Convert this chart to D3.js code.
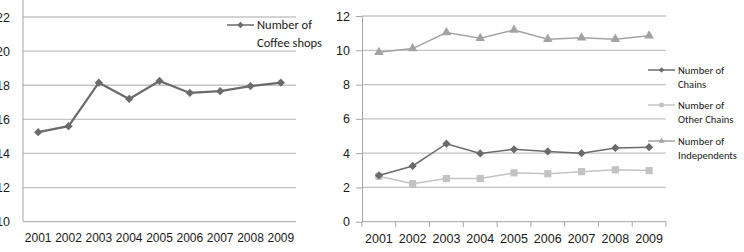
<!DOCTYPE html>
<html>
<head>
<meta charset="utf-8">
<script src="https://cdn.jsdelivr.net/npm/d3@7"></script>
<style>
  body { margin: 0; background: #fff; }
  svg { display: block; font-family: Carlito, Lato, sans-serif; }
  .tick text { fill: #1a1a1a; }
</style>
</head>
<body>
<svg id="chart" width="744" height="252"></svg>
<script>
// data
var years = ["2001", "2002", "2003", "2004", "2005", "2006", "2007", "2008", "2009"];
var coffeeShops = [15.25, 15.6, 18.15, 17.2, 18.25, 17.55, 17.65, 17.95, 18.15];
var chains = [2.7, 3.25, 4.55, 3.98, 4.22, 4.1, 4.0, 4.3, 4.35];
var otherChains = [2.65, 2.22, 2.52, 2.52, 2.85, 2.8, 2.92, 3.03, 2.98];
var independents = [9.88, 10.1, 11.04, 10.7, 11.18, 10.65, 10.73, 10.65, 10.85];
var leftTicks = [10, 12, 14, 16, 18, 20, 22];
var rightTicks = [0, 2, 4, 6, 8, 10, 12];

var svg = d3.select("#chart");
var gridColor = "#c4c4c4";
var axisColor = "#a6a6a6";

function drawSeries(g, x, y, values, color, lineWidth, symbol, size, rotate){
  var pts = values.map(function(v, i){ return {year: years[i], value: v}; });
  var line = d3.line()
               .x(function(d){ return x(d.year) + x.bandwidth()/2; })
               .y(function(d){ return y(d.value); });
  g.append("path")
   .datum(pts)
   .attr("fill", "none")
   .attr("stroke", color)
   .attr("stroke-width", lineWidth)
   .attr("d", line);
  g.selectAll(null)
   .data(pts)
   .enter().append("path")
   .attr("d", d3.symbol().type(symbol).size(size))
   .attr("fill", color)
   .attr("transform", function(d){
      return "translate(" + (x(d.year) + x.bandwidth()/2) + "," + y(d.value) + ") rotate(" + rotate + ")";
   });
}

function legendEntry(g, x0, y0, color, symbol, size, rotate, lines, fontSize, lineGap){
  g.append("line")
   .attr("x1", x0).attr("x2", x0 + 27)
   .attr("y1", y0).attr("y2", y0)
   .attr("stroke", color).attr("stroke-width", 1.5);
  g.append("path")
   .attr("d", d3.symbol().type(symbol).size(size))
   .attr("fill", color)
   .attr("transform", "translate(" + (x0 + 13.5) + "," + y0 + ") rotate(" + rotate + ")");
  lines.forEach(function(t, i){
    g.append("text")
     .attr("x", x0 + 30)
     .attr("y", y0 + i * lineGap)
     .attr("dy", "0.35em")
     .attr("font-size", fontSize)
     .attr("fill", "#1a1a1a")
     .text(t);
  });
}

// ---------- left chart: coffee shops ----------
var left = svg.append("g");
var xL = d3.scaleBand().domain(years).range([23, 296]);
var yL = d3.scaleLinear().domain([10, 22]).range([221.7, 17]);

left.selectAll(".grid")
    .data(leftTicks.filter(function(d){ return d > 10; }))
    .enter().append("line")
    .attr("x1", 23).attr("x2", 296)
    .attr("y1", function(d){ return yL(d); })
    .attr("y2", function(d){ return yL(d); })
    .attr("stroke", gridColor).attr("stroke-width", 1.3);

left.append("line")
    .attr("x1", 23).attr("x2", 23).attr("y1", 0).attr("y2", 221.7)
    .attr("stroke", axisColor);
left.append("line")
    .attr("x1", 23).attr("x2", 296).attr("y1", 221.7).attr("y2", 221.7)
    .attr("stroke", axisColor);

left.append("g")
    .attr("transform", "translate(23,0)")
    .call(d3.axisLeft(yL).tickValues(leftTicks).tickSize(0).tickPadding(13))
    .call(function(g){ g.select(".domain").remove(); })
    .selectAll("text").attr("font-size", 12.5);

left.append("g")
    .attr("transform", "translate(0,221.7)")
    .call(d3.axisBottom(xL).tickSize(0).tickPadding(12))
    .call(function(g){ g.select(".domain").remove(); })
    .selectAll("text").attr("font-size", 12);

drawSeries(left, xL, yL, coffeeShops, "#6b6b6b", 2.2, d3.symbolSquare, 34, 45);

legendEntry(left, 227, 25, "#6b6b6b", d3.symbolSquare, 20, 45,
            ["Number of", "Coffee shops"], 12.5, 18);

// ---------- right chart: chains / other / independents ----------
var right = svg.append("g");
var xR = d3.scaleBand().domain(years).range([362, 666]);
var yR = d3.scaleLinear().domain([0, 12]).range([221.7, 16]);

right.selectAll(".grid")
    .data(rightTicks.filter(function(d){ return d > 0; }))
    .enter().append("line")
    .attr("x1", 362).attr("x2", 666)
    .attr("y1", function(d){ return yR(d); })
    .attr("y2", function(d){ return yR(d); })
    .attr("stroke", gridColor).attr("stroke-width", 1.3);

var yAxisR = right.append("g")
    .attr("transform", "translate(362,0)")
    .call(d3.axisLeft(yR).tickValues(rightTicks).tickSize(6).tickSizeOuter(0).tickPadding(6));
yAxisR.selectAll("line, path").attr("stroke", axisColor);
yAxisR.selectAll("text").attr("font-size", 12.5);

right.append("line")
    .attr("x1", 362).attr("x2", 666).attr("y1", 221.7).attr("y2", 221.7)
    .attr("stroke", axisColor);
right.selectAll(".xtick")
    .data(years.concat(["end"]))
    .enter().append("line")
    .attr("x1", function(d){ return d === "end" ? 666 : xR(d); })
    .attr("x2", function(d){ return d === "end" ? 666 : xR(d); })
    .attr("y1", 221.7).attr("y2", 227)
    .attr("stroke", axisColor);

right.append("g")
    .attr("transform", "translate(0,221.7)")
    .call(d3.axisBottom(xR).tickSize(0).tickPadding(12))
    .call(function(g){ g.select(".domain").remove(); })
    .selectAll("text").attr("font-size", 12.5);

drawSeries(right, xR, yR, independents, "#a3a3a3", 1.5, d3.symbolTriangle, 40, 0);
drawSeries(right, xR, yR, otherChains, "#c3c3c3", 1.5, d3.symbolSquare, 52, 0);
drawSeries(right, xR, yR, chains, "#6b6b6b", 1.5, d3.symbolSquare, 34, 45);

legendEntry(right, 648, 70, "#6b6b6b", d3.symbolSquare, 14, 45, ["Number of", "Chains"], 10.5, 14);
legendEntry(right, 648, 105, "#c3c3c3", d3.symbolSquare, 20, 0, ["Number of", "Other Chains"], 10.5, 14);
legendEntry(right, 648, 141, "#a3a3a3", d3.symbolTriangle, 16, 0, ["Number of", "Independents"], 10.5, 14);
</script>
</body>
</html>
